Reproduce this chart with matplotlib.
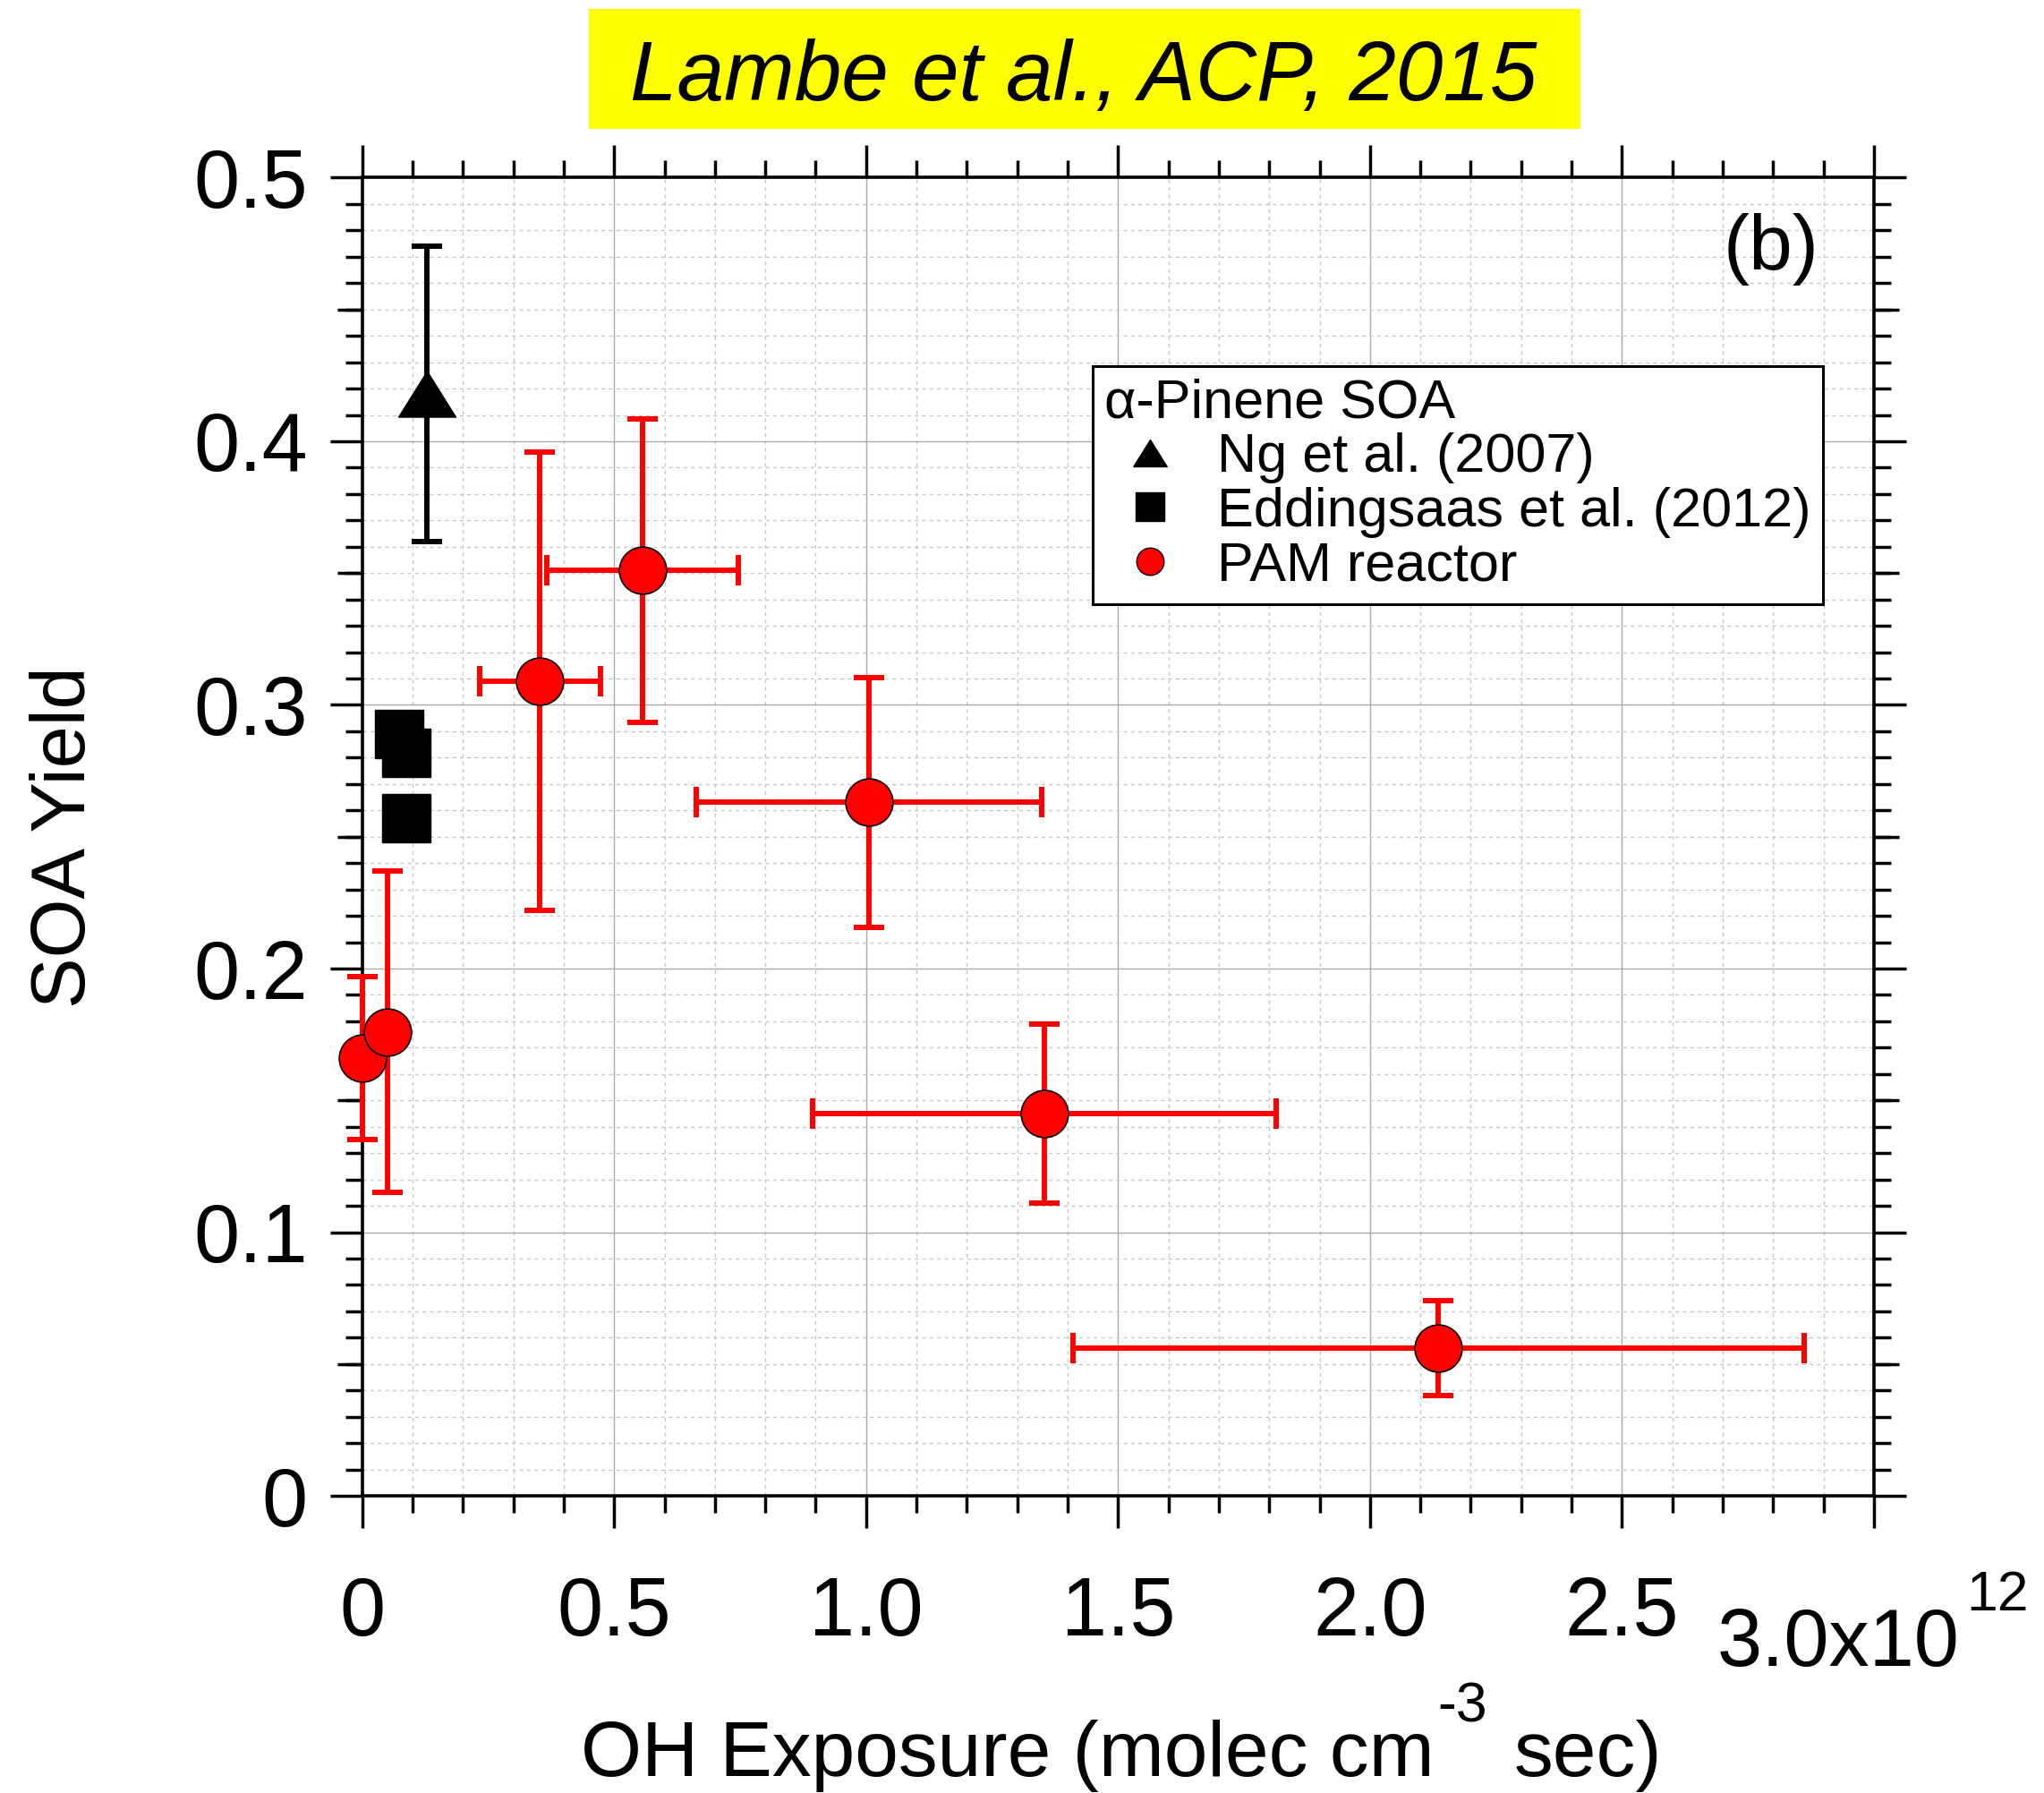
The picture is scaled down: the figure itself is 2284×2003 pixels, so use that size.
import matplotlib
matplotlib.use("Agg")
import matplotlib.pyplot as plt
from matplotlib.lines import Line2D
from matplotlib.patches import Rectangle
from matplotlib.ticker import MultipleLocator, FuncFormatter, NullLocator

plt.rcParams['font.family'] = ['Liberation Sans', 'DejaVu Sans']

# OH exposure given in units of 1e12 molec cm-3 sec
pam_x = [0.0, 0.050, 0.353, 0.556, 1.006, 1.353, 2.136]
pam_xerr = [0.0, 0.0, 0.120, 0.190, 0.343, 0.460, 0.726]
pam_y = [0.166, 0.176, 0.309, 0.351, 0.263, 0.145, 0.056]
pam_yerr = [0.031, 0.061, 0.087, 0.0575, 0.0475, 0.034, 0.018]

ng_x = [0.128]
ng_y = [0.418]
ng_yerr = [0.056]

edd_x = [0.073, 0.088, 0.088]
edd_y = [0.289, 0.282, 0.257]

xtick_vals = [0, 0.5, 1.0, 1.5, 2.0, 2.5, 3.0]
xtick_labels = ['0', '0.5', '1.0', '1.5', '2.0', '2.5', '']
legend_labels = ['Ng et al. (2007)', 'Eddingsaas et al. (2012)', 'PAM reactor']

# flat triangle (Igor style)
tri = [(-1, -0.8), (1, -0.8), (0, 0.8), (-1, -0.8)]

fig = plt.figure(figsize=(22.84, 20.03), dpi=100)
ax = fig.add_axes([0.17718, 0.16575, 0.73962, 0.73515])

# error bars first, markers on top
eb1 = ax.errorbar(pam_x, pam_y, xerr=pam_xerr, yerr=pam_yerr, fmt='none',
                  ecolor='#ff0000', elinewidth=4.3, capsize=12, capthick=4.3,
                  zorder=3)
eb2 = ax.errorbar(ng_x, ng_y, yerr=ng_yerr, fmt='none', ecolor='k',
                  elinewidth=4.3, capsize=12, capthick=4.3, zorder=3)
for eb in (eb1, eb2):
    for art in list(eb.lines[1]) + list(eb.lines[2]):
        art.set_clip_on(False)

ax.plot(ng_x, ng_y, ls='none', marker=tri, ms=46, color='k', zorder=5,
        clip_on=False)
ax.plot(edd_x, edd_y, ls='none', marker='s', ms=39, color='k', zorder=5,
        clip_on=False)
ax.plot(pam_x, pam_y, ls='none', marker='o', ms=38, mfc='#ff0000', mec='k',
        mew=1.2, zorder=5, clip_on=False)

ax.set_xlim(0, 3.0)
ax.set_ylim(0, 0.5)

ax.set_xticks(xtick_vals)
ax.set_xticklabels(xtick_labels)
ax.xaxis.set_minor_locator(MultipleLocator(0.1))
ax.yaxis.set_major_locator(MultipleLocator(0.1))
ax.yaxis.set_minor_locator(MultipleLocator(0.01))
ax.yaxis.set_major_formatter(FuncFormatter(lambda v, p: '0' if abs(v) < 1e-9 else '%.1f' % v))

ax.tick_params(which='both', direction='out', top=True, right=True,
               labeltop=False, labelright=False, width=2.5)
ax.tick_params(which='major', length=26, labelsize=66)
ax.tick_params(which='minor', length=13.5)
ax.tick_params(axis='x', which='major', pad=38)
ax.tick_params(axis='y', which='major', pad=18)

for s in ax.spines.values():
    s.set_linewidth(2.6)

ax.set_axisbelow(True)
ax.grid(which='major', color='#aaaaaa', lw=1.0, ls='-')
ax.grid(which='minor', color='#c8c8c8', lw=1.0, ls=(0, (3, 3)))

# medium ticks at the half steps of the y axis
for side in ('left', 'right'):
    sec = ax.secondary_yaxis(side)
    sec.yaxis.set_major_locator(MultipleLocator(0.1, offset=0.05))
    sec.yaxis.set_minor_locator(NullLocator())
    sec.tick_params(which='major', direction='out', length=20, width=2.5,
                    labelleft=False, labelright=False)
    for s in sec.spines.values():
        s.set_visible(False)

# last x tick label with exponent
t30 = ax.text(0.8964, -0.0842, '3.0x10', transform=ax.transAxes,
              fontsize=65, ha='left', va='top')
ax.annotate('12', xy=(1, 1), xycoords=t30, xytext=(7, 42),
            textcoords='offset pixels', fontsize=45, ha='left', va='top')

# axis labels
fig.text(0.0318, 0.5332, 'SOA Yield', rotation=90, fontsize=61,
         ha='center', va='center')
t1 = fig.text(0.284, 0.0097, 'OH Exposure (molec cm', fontsize=63,
              ha='left', va='baseline')
t2 = ax.annotate('-3', xy=(1, 0), xycoords=t1, xytext=(4, 78),
                 textcoords='offset pixels', fontsize=45, ha='left',
                 va='baseline', annotation_clip=False)
ax.annotate('sec)', xy=(1, 0), xycoords=(t2, t1), xytext=(30, 0),
            textcoords='offset pixels', fontsize=63, ha='left', va='bottom',
            annotation_clip=False)

# panel tag
ax.text(0.932, 0.946, '(b)', transform=ax.transAxes, fontsize=63,
        ha='center', va='center')

# legend with marker-only handles
h_ng = Line2D([], [], ls='none', marker=tri, ms=27, color='k')
h_edd = Line2D([], [], ls='none', marker='s', ms=22.5, color='k')
h_pam = Line2D([], [], ls='none', marker='o', ms=22, mfc='#ff0000',
               mec='k', mew=1)
leg = ax.legend([h_ng, h_edd, h_pam], legend_labels, title='α-Pinene SOA',
                loc='upper left', bbox_to_anchor=(0.4832, 0.857),
                borderaxespad=0, fontsize=44, title_fontsize=44,
                frameon=True, fancybox=False, edgecolor='k', framealpha=1,
                borderpad=0.22, labelspacing=0.06, handlelength=1.64,
                handletextpad=0.42, alignment='left')
leg.get_frame().set_linewidth(2.2)
leg.set_zorder(10)

# yellow citation banner
fig.patches.append(Rectangle((0.2881, 0.9281), 0.4851, 0.0669,
                             transform=fig.transFigure, facecolor='#ffff00',
                             edgecolor='none', zorder=0))
fig.text(0.5302, 0.9441, 'Lambe et al., ACP, 2015', fontsize=68,
         style='italic', ha='center', va='baseline')

fig.savefig('out.png', dpi=100)
